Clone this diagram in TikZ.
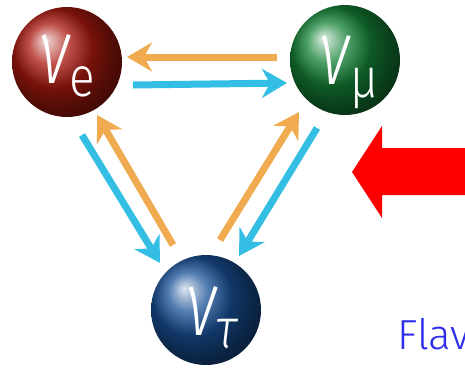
\documentclass[tikz,border=0pt]{standalone}
\usepackage{fontspec}
\usepackage{graphicx}
\setmainfont{Open Sans}
\newfontfamily\labfont{Fira Sans Light}
\usetikzlibrary{arrows.meta,calc}
\definecolor{arrO}{RGB}{240,170,80}
\definecolor{arrB}{RGB}{52,190,228}
\definecolor{ballR}{RGB}{170,25,15}
\definecolor{ballG}{RGB}{20,130,55}
\definecolor{ballB}{RGB}{25,80,150}
\definecolor{flavBlue}{RGB}{45,45,235}
\newcommand\nulab[1]{\labfont\color{white}\scalebox{0.72}[1]{\itshape\fontsize{92}{92}\selectfont ν}\kern0pt\raisebox{-13pt}{\scalebox{0.85}[1]{\fontsize{56}{56}\selectfont #1}}}
\tikzset{
  sphere/.style={circle, minimum size=110pt, inner sep=0pt, shading=ball},
  flow/.style={line width=7pt, -{Stealth[length=25pt,width=29pt,inset=8pt]}},
  oflow/.style={flow, draw=arrO},
  bflow/.style={flow, draw=arrB},
}
\begin{document}
\begin{tikzpicture}[x=1pt,y=-1pt]
\useasboundingbox (0,0) rectangle (465,368);
\node[sphere, ball color=ballR] (e) at (67,62) {};
\node[sphere, ball color=ballG] (mu) at (345,60) {};
\node[sphere, ball color=ballB] (tau) at (206,310) {};
\node (le) at ($(e)+(0,4)$) {\nulab{e}};
\node (lmu) at ($(mu)+(4,12)$) {\nulab{μ}};
\node (ltau) at ($(tau)+(6,8)$) {\nulab{\itshape τ}};
% top pair
\draw[oflow] ($(mu)+(-68,-3)$) -- ($(e)+(60,-5)$);
\draw[bflow] ($(e)+(66,23)$) -- ($(mu)+(-58,23)$);
% left pair
\draw[bflow] ($(e)+(15,73)$) -- ($(tau)+(-46,-47)$);
\draw[oflow] ($(tau)+(-33,-65)$) -- ($(e)+(30,53)$);
% right pair
\draw[oflow] ($(tau)+(14,-70)$) -- ($(mu)+(-46,52)$);
\draw[bflow] ($(mu)+(-28,68)$) -- ($(tau)+(33,-54)$);
% red arrow
\fill[red] (352,172) -- (382,126) -- (382,148) -- (470,148) -- (470,195) -- (382,195) -- (382,218) -- cycle;
\node[anchor=base west, inner sep=0pt, font=\labfont\fontsize{42}{42}\selectfont, text=flavBlue] (flav) at (397,349) {Flav};
\end{tikzpicture}
\end{document}
